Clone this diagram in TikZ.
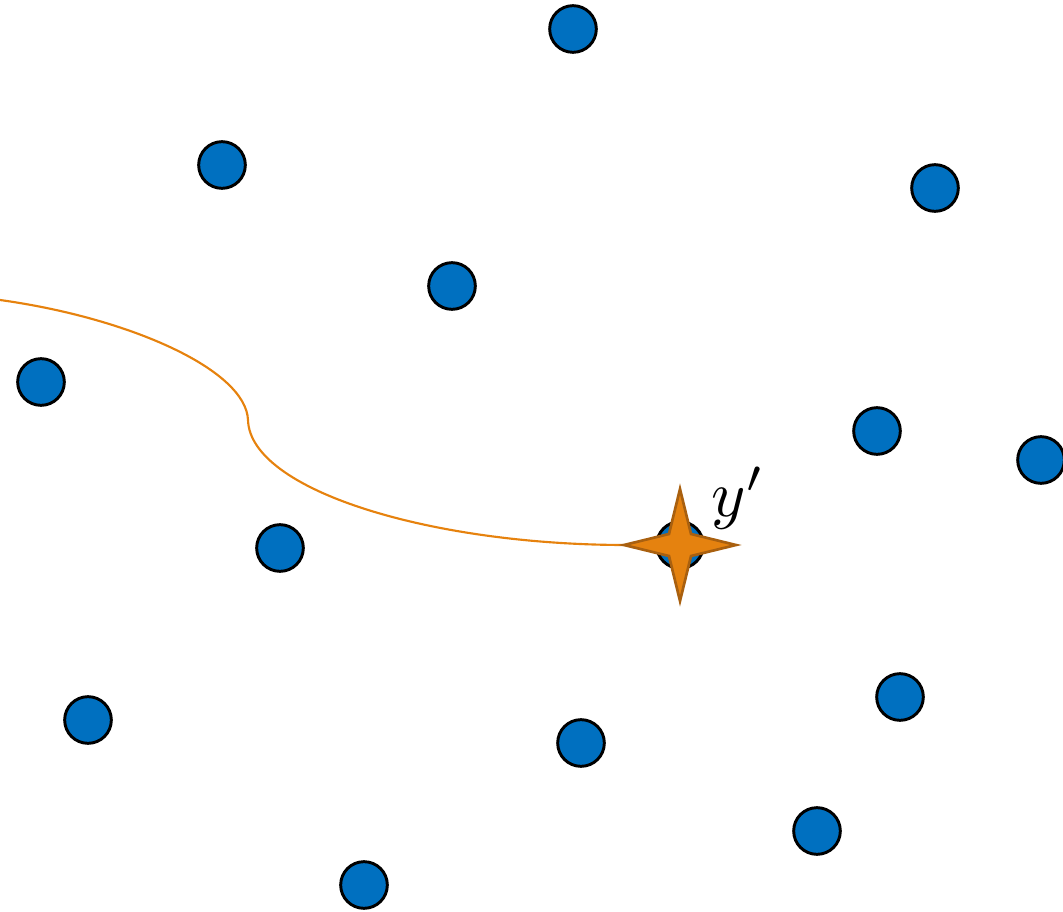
\documentclass[tikz,border=0pt]{standalone}
\usetikzlibrary{shapes.geometric}
\definecolor{dotblue}{HTML}{0070C0}
\definecolor{curveorange}{HTML}{E6820E}
\definecolor{starfill}{HTML}{E5820F}
\definecolor{stardraw}{HTML}{A9600F}
\begin{document}
\begin{tikzpicture}[x=0.75pt,y=-0.75pt,
  dot/.style={circle,draw=black,fill=dotblue,line width=2.2pt,minimum size=35pt,inner sep=0pt},
  starnode/.style={star,star points=4,star point ratio=3.6,fill=starfill,draw=stardraw,line width=2pt,minimum size=84pt,inner sep=0pt},
  curve/.style={draw=curveorange,line width=1.6pt}]
\useasboundingbox (0,0) rectangle (1063,912);
\node[dot] (d1) at (573,29) {};
\node[dot] (d2) at (222,165) {};
\node[dot] (d3) at (935,188) {};
\node[dot] (d4) at (452,286) {};
\node[dot] (d5) at (41,382) {};
\node[dot] (d6) at (877,431) {};
\node[dot] (d7) at (1041,460) {};
\node[dot] (d8) at (280,548) {};
\node[dot] (d9) at (680,545) {};
\node[dot] (d10) at (88,720) {};
\node[dot] (d11) at (581,743) {};
\node[dot] (d12) at (900,697) {};
\node[dot] (d13) at (817,831) {};
\node[dot] (d14) at (364,885) {};
\coordinate (start) at (0,300);
\coordinate (bend) at (248,420);
\coordinate (tip) at (626,545);
\draw[curve] (start) .. controls (130,318) and (246,370) .. (bend)
  .. controls (250,490) and (430,545) .. (tip);
\node[starnode] (s) at (680,545) {};
\node[scale=4.9,inner sep=0pt] (lab) at (738,498) {$y'$};
\end{tikzpicture}
\end{document}
